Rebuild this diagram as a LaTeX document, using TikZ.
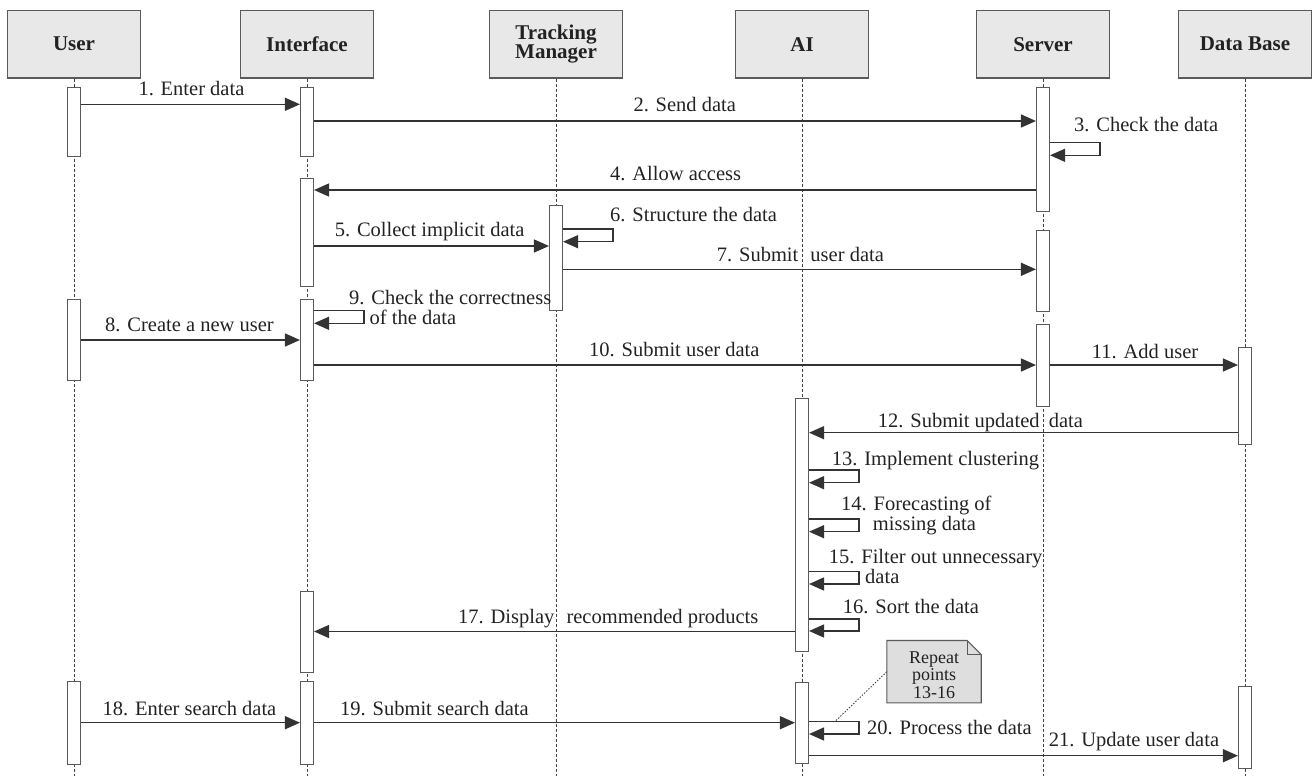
\documentclass[tikz,border=0pt]{standalone}
\usepackage{fontspec}
\setmainfont{Liberation Serif}
\usetikzlibrary{arrows.meta,calc}

\definecolor{ink}{HTML}{222222}
\definecolor{lineclr}{HTML}{333333}
\definecolor{boxline}{HTML}{5A5A5A}
\definecolor{lifeclr}{HTML}{444444}
\definecolor{headfill}{HTML}{E8E8E8}
\definecolor{notefill}{HTML}{DEDEDE}

\tikzset{
  x=1pt, y=-1pt,
  head/.style={draw=boxline, fill=headfill, line width=1.2pt,
    minimum width=133pt, minimum height=67.4pt, inner sep=0pt,
    font=\fontsize{21}{19}\selectfont\bfseries, text=ink, align=center},
  life/.style={draw=lifeclr, line width=0.9pt, dash pattern=on 3pt off 2pt},
  actbox/.style={draw=boxline, fill=white, line width=1.1pt,
    minimum width=13pt, inner sep=0pt, anchor=north},
  msg/.style={draw=lineclr, line width=1.4pt,
    -{Triangle[length=15pt,width=13pt]}},
  lbl/.style={font=\fontsize{20.5}{20}\selectfont, text=ink,
    anchor=base west, inner sep=0pt, align=left},
  notebox/.style={minimum width=94pt, minimum height=62pt, inner sep=0pt,
    font=\fontsize{18}{17.5}\selectfont, text=ink, align=center},
  notelink/.style={draw=lifeclr, line width=0.9pt, dash pattern=on 1.5pt off 1.5pt},
}

% activation box: name, x, top, bottom
\newcommand\actbar[4]{\node[actbox, minimum height={#4pt-#3pt}] (#1) at (#2,#3) {};}
% self call on an activation box: box, upper y, lower y
\newcommand\selfcall[3]{\draw[msg] (#1.east |- 0,#2) -- ++(50,0) |- (#1.east |- 0,#3);}

\begin{document}
\begin{tikzpicture}
\useasboundingbox (0,0) rectangle (1316,776);

% participants
\node[head] (hUser) at (74,44.2)   {User};
\node[head] (hInt)  at (307,44.2)  {Interface};
\node[head] (hTM)   at (556,44.2)  {Tracking\\Manager};
\node[head] (hAI)   at (802,44.2)  {AI};
\node[head] (hSrv)  at (1043,44.2) {Server};
\node[head] (hDB)   at (1245,44.2) {Data Base};

% lifelines
\foreach \p in {hUser,hInt,hTM,hAI,hSrv,hDB}
  \draw[life] (\p.south) -- (\p.south |- 0,776);

% activation boxes
\actbar{ub1}{74}{87}{156}
\actbar{ib1}{307}{87}{156}
\actbar{sb1}{1043}{87}{211}
\actbar{ib2}{307}{178}{286}
\actbar{tb1}{556}{205}{310}
\actbar{sb2}{1043}{230}{310.5}
\actbar{ub2}{74}{299}{380}
\actbar{ib3}{307}{299}{380}
\actbar{sb3}{1043}{324}{405.5}
\actbar{db1}{1245}{347}{444}
\actbar{ab1}{802}{398}{651}
\actbar{ib4}{307}{591}{672}
\actbar{ub3}{74}{681}{763.5}
\actbar{ib5}{307}{681}{763.5}
\actbar{ab2}{802}{681.5}{763}
\actbar{db2}{1245}{686}{767.5}

% messages
\draw[msg] (ub1.east |- 0,104.3) -- (ib1.west |- 0,104.3);
\draw[msg] (ib1.east |- 0,121) -- (sb1.west |- 0,121);
\selfcall{sb1}{142.3}{155.3}
\draw[msg] (sb1.west |- 0,190) -- (ib2.east |- 0,190);
\draw[msg] (ib2.east |- 0,246) -- (tb1.west |- 0,246);
\selfcall{tb1}{229}{241.7}
\draw[msg] (tb1.east |- 0,269.3) -- (sb2.west |- 0,269.3);
\draw[msg] (ub2.east |- 0,340) -- (ib3.west |- 0,340);
\selfcall{ib3}{310.7}{323.3}
\draw[msg] (ib3.east |- 0,365) -- (sb3.west |- 0,365);
\draw[msg] (sb3.east |- 0,365) -- (db1.west |- 0,365);
\draw[msg] (db1.west |- 0,432.7) -- (ab1.east |- 0,432.7);
\selfcall{ab1}{470}{482.7}
\selfcall{ab1}{519}{531.7}
\selfcall{ab1}{571.7}{584}
\selfcall{ab1}{619}{631}
\draw[msg] (ab1.west |- 0,631.5) -- (ib4.east |- 0,631.5);
\draw[msg] (ub3.east |- 0,722.7) -- (ib5.west |- 0,722.7);
\draw[msg] (ib5.east |- 0,722.7) -- (ab2.west |- 0,722.7);
\selfcall{ab2}{721.5}{734}
\draw[msg] (ab2.east |- 0,755.7) -- (db2.west |- 0,755.7);

% message labels (two-line labels are anchored on their last line)
\node[lbl] (l1)  at (138.3,95)   {1. Enter data};
\node[lbl] (l2)  at (633.3,111.7) {2. Send data};
\node[lbl] (l3)  at (1074,131.7) {3. Check the data};
\node[lbl] (l4)  at (610,180)    {4. Allow access};
\node[lbl] (l5)  at (334.6,236)  {5. Collect implicit data};
\node[lbl] (l6)  at (610,221.7)  {6. Structure the data};
\node[lbl] (l7)  at (716.7,261.7) {7. Submit\hspace{7pt} user data};
\node[lbl] (l8)  at (105,331.7)  {8. Create a new user};
\node[lbl] (l9)  at (349,324)    {9. Check the correctness\\\hspace*{20.5pt}of the data};
\node[lbl] (l10) at (589,356.7)  {10. Submit user data};
\node[lbl] (l11) at (1091.7,358.3) {11. Add user};
\node[lbl] (l12) at (877.7,427.3) {12. Submit updated\hspace{4pt} data};
\node[lbl] (l13) at (831.7,465)  {13. Implement clustering};
\node[lbl] (l14) at (841,530)    {14. Forecasting of\\\hspace*{31.7pt}missing data};
\node[lbl] (l15) at (828.7,583.3) {15. Filter out unnecessary\\\hspace*{36.3pt}data};
\node[lbl] (l16) at (842.7,613.3) {16. Sort the data};
\node[lbl] (l17) at (458,623.3)  {17. Display\hspace{7pt} recommended products};
\node[lbl] (l18) at (102.5,715.5) {18. Enter search data};
\node[lbl] (l19) at (340,715.5)  {19. Submit search data};
\node[lbl] (l20) at (867,734)    {20. Process the data};
\node[lbl] (l21) at (1048.7,746.7) {21. Update user data};

% note with folded corner
\node[notebox] (note) at (934,671.7) {};
\filldraw[fill=notefill, draw=boxline, line width=1.1pt]
  (note.north west) -- ($(note.north east)+(-14,0)$) -- ($(note.north east)+(0,14)$)
  -- (note.south east) -- (note.south west) -- cycle;
\draw[boxline, line width=1.1pt]
  ($(note.north east)+(-14,0)$) -- ($(note.north east)+(-14,14)$) -- ($(note.north east)+(0,14)$);
\node[notebox] (notetext) at (934,675) {Repeat\\points\\13-16};
\coordinate (c20) at (835,721.5);
\draw[notelink] (note.west) -- (c20);
\end{tikzpicture}
\end{document}
